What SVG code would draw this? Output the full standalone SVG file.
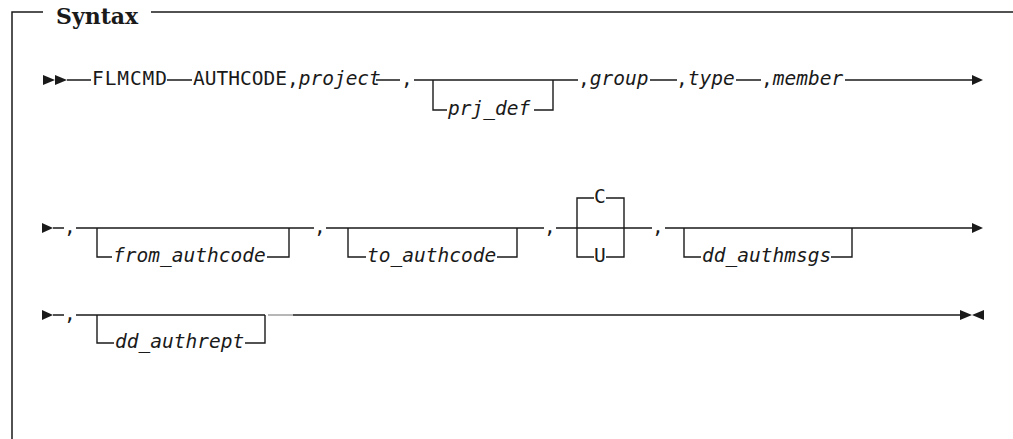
<svg xmlns="http://www.w3.org/2000/svg" width="1013" height="439" viewBox="0 0 1013 439">
<style>
.t{font-family:"DejaVu Sans Mono","Liberation Mono",monospace;font-size:19.5px;fill:#1a1a1a}
.i{font-style:italic}
.h{font-family:"DejaVu Serif","Liberation Serif",serif;font-weight:bold;font-size:22px;fill:#1a1a1a}
.l{stroke:#1a1a1a;stroke-width:1.4;fill:none}
.f{stroke:#1a1a1a;stroke-width:1.5;fill:none}
.a{fill:#1a1a1a}
</style>
<rect width="1013" height="439" fill="#fff"/>
<g id="frame">
<path class="f" d="M12,439 V12 H43 M151,12 H1013"/>
<text class="h" x="56" y="24">Syntax</text>
</g>
<g id="connectors">
<!-- row 1 -->
<polygon class="a" points="43,75 55,80 43,85"/>
<polygon class="a" points="55,75 67,80 55,85"/>
<path class="l" d="M67,80 H91 M167,80 H192 M376,80 H400 M414,80 H578 M650,80 H677 M736,80 H761 M845,80 H972"/>
<path class="l" d="M433,80 V110 H447 M534,110 H553 V80"/>
<polygon class="a" points="972,75 983,80 972,85"/>
<!-- row 2 -->
<polygon class="a" points="42,223 53,228 42,233"/>
<path class="l" d="M53,228 H64 M76,228 H314 M326,228 H544 M556,228 H652 M665,228 H972"/>
<path class="l" d="M97,228 V257 H112 M267,257 H289 V228"/>
<path class="l" d="M348,228 V257 H366 M497,257 H517 V228"/>
<path class="l" d="M577,228 V198 H594 M606,198 H624 V228 M577,228 V257 H594 M606,257 H624 V228"/>
<path class="l" d="M684,228 V257 H701 M831,257 H852 V228"/>
<polygon class="a" points="972,223 983,228 972,233"/>
<!-- row 3 -->
<polygon class="a" points="42,310 53,315 42,320"/>
<path class="l" d="M53,315 H64 M76,315 H265"/>
<path class="l" d="M97,315 V343 H114 M245,343 H265 V315"/>
<path d="M268,315 H293" stroke="#999" stroke-width="1.4"/>
<path class="l" d="M293,315 H960"/>
<polygon class="a" points="960,310 972,315 960,320"/>
<polygon class="a" points="984,310 972,315 984,320"/>
</g>
<g id="FLMCMD"><text class="t" x="92" y="85" textLength="75">FLMCMD</text></g>
<g id="AUTHCODE"><text class="t" x="193" y="85">AUTHCODE,<tspan class="i">project</tspan></text></g>
<g id="comma1"><text class="t" x="401" y="85">,</text></g>
<g id="prj_def"><text class="t i" x="448" y="115">prj_def</text></g>
<g id="group"><text class="t" x="578" y="85">,<tspan class="i">group</tspan></text></g>
<g id="type"><text class="t" x="676" y="85">,<tspan class="i">type</tspan></text></g>
<g id="member"><text class="t" x="761" y="85">,<tspan class="i">member</tspan></text></g>
<g id="comma2"><text class="t" x="64" y="233">,</text></g>
<g id="from_authcode"><text class="t i" x="113" y="262">from_authcode</text></g>
<g id="comma3"><text class="t" x="314" y="233">,</text></g>
<g id="to_authcode"><text class="t i" x="367" y="262">to_authcode</text></g>
<g id="comma4"><text class="t" x="544" y="233">,</text></g>
<g id="C"><text class="t" x="594" y="203">C</text></g>
<g id="U"><text class="t" x="594" y="262">U</text></g>
<g id="comma5"><text class="t" x="652" y="233">,</text></g>
<g id="dd_authmsgs"><text class="t i" x="702" y="262">dd_authmsgs</text></g>
<g id="comma6"><text class="t" x="64" y="320">,</text></g>
<g id="dd_authrept"><text class="t i" x="115" y="348">dd_authrept</text></g>
</svg>
